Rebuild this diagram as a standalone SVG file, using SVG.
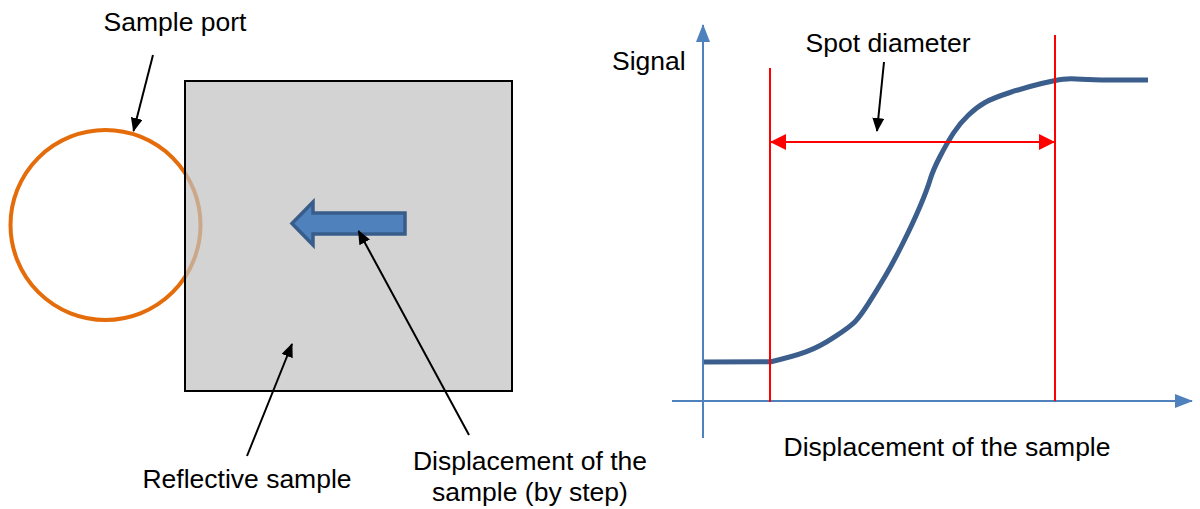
<svg xmlns="http://www.w3.org/2000/svg" width="1200" height="509" viewBox="0 0 1200 509">
<style>
text{font-family:"Liberation Sans",Arial,sans-serif;font-size:26.5px;fill:#000}
.lead{stroke:#000;stroke-width:2;fill:none}
.red{stroke:#FF0000;stroke-width:2;fill:none}
.axis{stroke:#4F81BD;stroke-width:2;fill:none}
</style>
<defs>
<marker id="ah" viewBox="0 0 14 12" refX="13" refY="6" markerWidth="14" markerHeight="12" markerUnits="userSpaceOnUse" orient="auto"><path d="M0,0 L14,6 L0,12 Z" fill="#000"/></marker>
<marker id="rh" viewBox="0 0 16 16" refX="15" refY="8" markerWidth="16" markerHeight="16" markerUnits="userSpaceOnUse" orient="auto"><path d="M0,0 L16,8 L0,16 Z" fill="#FF0000"/></marker>
<marker id="rhs" viewBox="0 0 16 16" refX="1" refY="8" markerWidth="16" markerHeight="16" markerUnits="userSpaceOnUse" orient="auto"><path d="M16,0 L0,8 L16,16 Z" fill="#FF0000"/></marker>
<marker id="bh" viewBox="0 0 18 14" refX="17" refY="7" markerWidth="18" markerHeight="14" markerUnits="userSpaceOnUse" orient="auto"><path d="M0,0 L18,7 L0,14 Z" fill="#4F81BD"/></marker>
</defs>
<g id="sample-port">
<circle cx="105.5" cy="225" r="95" fill="none" stroke="#E46C0A" stroke-width="4"/>
<text x="175" y="31" text-anchor="middle">Sample port</text>
</g>
<g id="reflective-sample">
<rect x="185" y="81" width="327" height="310" fill="#C1C1C1" fill-opacity="0.707" stroke="#000" stroke-width="2"/>
<text x="247" y="488" text-anchor="middle">Reflective sample</text>
</g>
<g id="block-arrow">
<path d="M292,223.5 L313,202 L313,213 L405,213 L405,234 L313,234 L313,245 Z" fill="#4F81BD" stroke="#385D8A" stroke-width="3.5" stroke-linejoin="miter"/>
</g>
<g id="displacement-label">
<text x="530" y="470" text-anchor="middle">Displacement of the</text>
<text x="530" y="501" text-anchor="middle">sample (by step)</text>
</g>
<g id="graph">
<text x="612" y="70">Signal</text>
<text x="888" y="52" text-anchor="middle">Spot diameter</text>
<text x="947" y="456" text-anchor="middle">Displacement of the sample</text>
<path d="M703,362 L771,361.7 Q793,356.7 806.5,351.7 Q820,346.7 835,336.7 Q850,326.7 855,321.7 Q860,316.7 868.5,303.4 Q877,290 885,276.5 Q893,263 903,243 Q913,223 920,206.5 Q927,190 930,180 Q933,170 940,156.5 Q947,143 953.5,133 Q960,123 968.5,115 Q977,107 985,102.5 Q993,98 1010,92.5 Q1027,87 1041.5,83.5 Q1056,80 1063,79.2 Q1070,78.3 1081.5,79.2 Q1093,80 1110,80 L1148,80" fill="none" stroke="#3B5E8C" stroke-width="5" stroke-linejoin="round"/>
</g>
<g id="connectors">
<line class="lead" x1="153" y1="55" x2="133.5" y2="131" marker-end="url(#ah)"/>
<line class="lead" x1="469" y1="435" x2="358.5" y2="231" marker-end="url(#ah)"/>
<line class="lead" x1="247" y1="456" x2="292" y2="344" marker-end="url(#ah)"/>
<line class="lead" x1="884" y1="62" x2="877" y2="131" marker-end="url(#ah)"/>
<line class="axis" x1="703" y1="438" x2="703" y2="25" marker-end="url(#bh)"/>
<line class="axis" x1="672" y1="401" x2="1192" y2="401" marker-end="url(#bh)"/>
<line class="red" x1="770" y1="68" x2="770" y2="402"/>
<line class="red" x1="1055" y1="35" x2="1055" y2="401"/>
<line class="red" x1="771" y1="142" x2="1054" y2="142" marker-start="url(#rhs)" marker-end="url(#rh)"/>
</g>
</svg>
